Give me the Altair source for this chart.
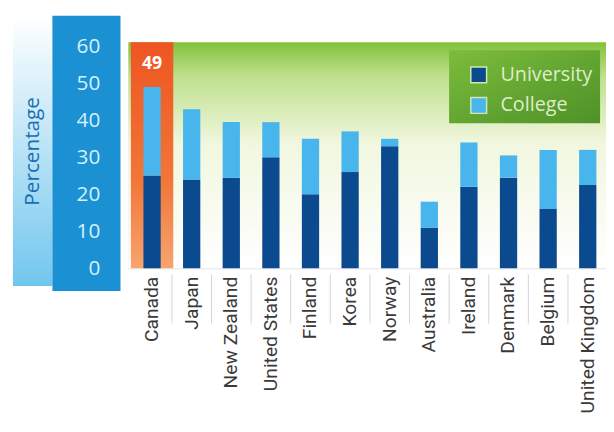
import altair as alt
import pandas as pd

countries = ["Canada", "Japan", "New Zealand", "United States", "Finland", "Korea",
             "Norway", "Australia", "Ireland", "Denmark", "Belgium", "United Kingdom"]
university = [25, 24, 24.5, 30, 20, 26, 33, 11, 22, 24.5, 16, 22.5]
college = [24, 19, 15, 9.5, 15, 11, 2, 7, 12, 6, 16, 9.5]
series = ["University", "College"]
y_ticks = [0, 10, 20, 30, 40, 50, 60]
highlight = "Canada"

rows = []
for c, u, k in zip(countries, university, college):
    rows.append({"Country": c, "type": "University", "value": u, "ord": 0})
    rows.append({"Country": c, "type": "College", "value": k, "ord": 1})
df = pd.DataFrame(rows)
hl = pd.DataFrame({"Country": [highlight],
                   "total": [university[0] + college[0]]})
seps = pd.DataFrame({"Country": countries[1:]})
one = pd.DataFrame({"a": [0]})

W, H = 484, 225
DARK = "#0b4a8e"
LIGHT = "#48b6ec"
FONT = "Open Sans"
NARROW = "Roboto"

xscale = alt.Scale(domain=countries, range=[15.25, 474.25], paddingInner=0.564, paddingOuter=0)

strip = alt.Chart(one).mark_rect(
    fill=alt.Gradient(gradient="linear", x1=0, y1=0, x2=0, y2=1,
                      stops=[alt.GradientStop(offset=0, color="#ffffff"),
                             alt.GradientStop(offset=1, color="#72c6ee")])
).encode(x=alt.value(-117), x2=alt.value(-77), y=alt.value(-31), y2=alt.value(243))

panel = alt.Chart(one).mark_rect(fill="#1b91d3").encode(
    x=alt.value(-77), x2=alt.value(-8), y=alt.value(-31), y2=alt.value(248))

green = alt.Chart(one).mark_rect(
    fill=alt.Gradient(gradient="linear", x1=0, y1=0, x2=0, y2=1,
                      stops=[alt.GradientStop(offset=0, color="#82c038"),
                             alt.GradientStop(offset=0.15, color="#bfe08e"),
                             alt.GradientStop(offset=0.45, color="#f1f7df"),
                             alt.GradientStop(offset=1, color="#ffffff")])
).encode(x=alt.value(0), x2=alt.value(W), y=alt.value(-4), y2=alt.value(H))

orange = alt.Chart(hl).mark_bar(
    width=43,
    fill=alt.Gradient(gradient="linear", x1=0, y1=0, x2=0, y2=1,
                      stops=[alt.GradientStop(offset=0, color="#ee5522"),
                             alt.GradientStop(offset=0.6, color="#f27536"),
                             alt.GradientStop(offset=1, color="#f7a470")])
).encode(x=alt.X("Country:N", scale=xscale, title=None), y=alt.value(-4), y2=alt.value(H))

legend_box = alt.Chart(one).mark_rect(
    fill=alt.Gradient(gradient="linear", x1=0, y1=0, x2=1, y2=1,
                      stops=[alt.GradientStop(offset=0, color="#7cbc3c"),
                             alt.GradientStop(offset=1, color="#4e9128")])
).encode(x=alt.value(325), x2=alt.value(478), y=alt.value(4), y2=alt.value(78))

bars = alt.Chart(df).mark_bar().encode(
    x=alt.X("Country:N", scale=xscale, sort=countries, title=None,
            axis=alt.Axis(labelAngle=-90, labelFont=NARROW, labelFontSize=19.5,
                          labelColor="#3a3a3a", labelPadding=8, domain=False, ticks=False,
                          labelAlign="right", labelBaseline="middle", labelLimit=0,
                          zindex=2)),
    y=alt.Y("value:Q", stack="zero",
            scale=alt.Scale(domain=[0, 60], nice=False),
            axis=alt.Axis(title="Percentage", values=y_ticks, domain=False, ticks=False,
                          grid=False, labelFont=FONT, labelFontSize=21, labelColor="#d2f0fb",
                          labelPadding=29, titleFont=FONT, titleFontSize=21,
                          titleFontWeight="normal", titleColor="#1a6db2", titleAngle=270,
                          titleX=-97, titleY=106, titleAlign="center",
                          titleBaseline="middle", zindex=2)),
    color=alt.Color("type:N", scale=alt.Scale(domain=series, range=[DARK, LIGHT]),
                    legend=alt.Legend(title=None, orient="none", legendX=345, legendY=19,
                                      symbolType="square", symbolSize=256,
                                      symbolStrokeColor="#cfe8b0", symbolStrokeWidth=1.5,
                                      symbolOpacity=1,
                                      labelFont=FONT, labelFontSize=20, labelColor="#dcefc8",
                                      labelOffset=12, rowPadding=9, padding=0)),
    order=alt.Order("ord:Q"),
)

sep = alt.Chart(seps).mark_rule(color="#d4d4d4", strokeWidth=1, xOffset=-11.3).encode(
    x=alt.X("Country:N", scale=xscale, bandPosition=0, title=None),
    y=alt.value(H + 6), y2=alt.value(H + 56))

label = alt.Chart(hl).mark_text(font=FONT, fontSize=18, fontWeight="bold", color="white",
                                baseline="middle").encode(
    x=alt.X("Country:N", scale=xscale, title=None),
    y=alt.value(18), text=alt.Text("total:Q"))

chart = alt.layer(strip, panel, green, orange, legend_box, bars, sep, label).properties(
    width=W, height=H,
    autosize=alt.AutoSizeParams(type="none"),
    padding={"left": 122, "top": 36, "right": 0, "bottom": 154},
).configure_view(strokeWidth=0).configure(background="white")

chart.save("out.html", embed_options={"renderer": "svg", "actions": False})
